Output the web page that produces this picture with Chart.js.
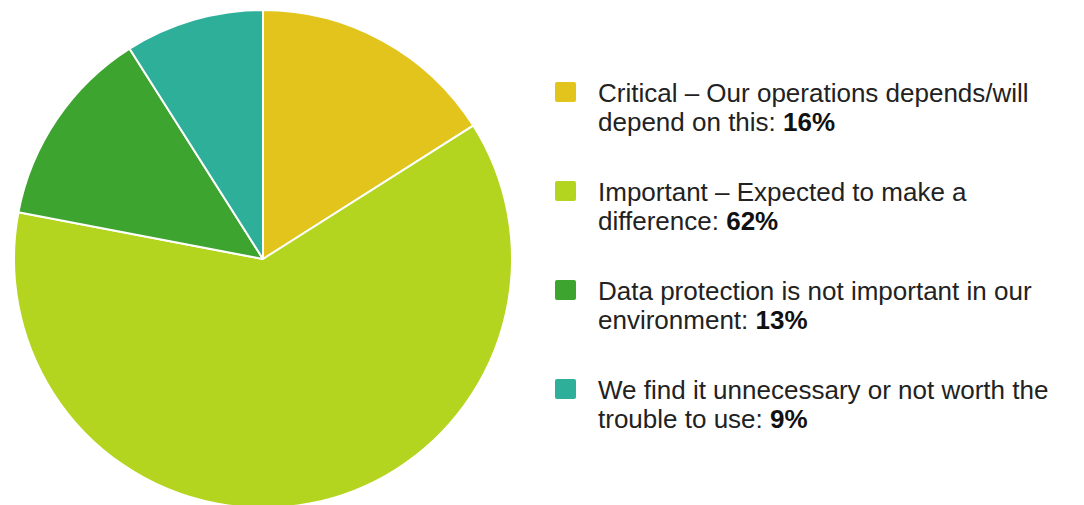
<!DOCTYPE html>
<html>
<head>
<meta charset="utf-8">
<script src="https://cdn.jsdelivr.net/npm/chart.js@4"></script>
<style>
  html, body { margin: 0; padding: 0; background: #fff; overflow: hidden; }
  body { width: 1084px; height: 505px; position: relative; font-family: "Liberation Sans", Arial, Helvetica, sans-serif; }
  #pieBox { position: absolute; left: 0; top: 0; width: 526px; height: 518px; }
  #legend { position: absolute; left: 555px; top: 79px; width: 520px; }
  .item { position: relative; padding-left: 43px; width: 475px; font-size: 26px; line-height: 29px; color: #222; margin-bottom: 41px; }
  .item b { font-weight: bold; color: #111; }
  .swatch { position: absolute; left: 0; top: 3px; width: 21px; height: 20px; border-radius: 2px; }
</style>
</head>
<body>
<div id="pieBox"><canvas id="pie"></canvas></div>
<div id="legend"></div>
<script>
// chart data
const categories = [
    'Critical – Our operations depends/will depend on this',
    'Important – Expected to make a difference',
    'Data protection is not important in our environment',
    'We find it unnecessary or not worth the trouble to use'
];
const shares = [16, 62, 13, 9];
const sliceColors = ['#E2C41C', '#B3D51F', '#3DA52F', '#2DAF99'];

document.addEventListener('DOMContentLoaded', () => {
    // legend on the right, built from the same arrays
    const legend = document.getElementById('legend');
    categories.forEach((label, i) => {
        const item = document.createElement('div');
        item.className = 'item';
        const sw = document.createElement('span');
        sw.className = 'swatch';
        sw.style.background = sliceColors[i];
        item.appendChild(sw);
        item.appendChild(document.createTextNode(label + ': '));
        const b = document.createElement('b');
        b.textContent = shares[i] + '%';
        item.appendChild(b);
        legend.appendChild(item);
    });

    const ctx = document.getElementById('pie').getContext('2d');
    new Chart(ctx, {
        type: 'pie',
        data: {
            labels: categories,
            datasets: [{
                data: shares,
                backgroundColor: sliceColors,
                borderColor: '#ffffff',
                borderWidth: 2
            }]
        },
        options: {
            responsive: true,
            maintainAspectRatio: false,
            animation: false,
            layout: { padding: 9 },
            plugins: {
                legend: { display: false },
                tooltip: { enabled: false }
            }
        }
    });
});
</script>
</body>
</html>
